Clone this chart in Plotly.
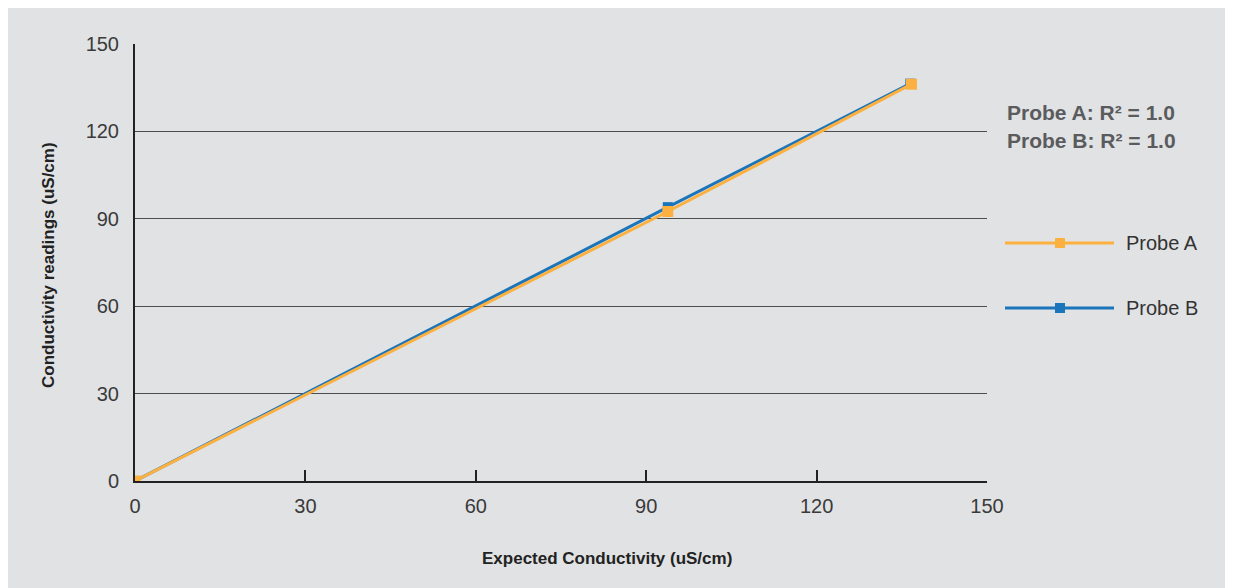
import plotly.graph_objects as go

expected_a = [0, 93.8, 136.7]
reading_a = [0, 92.5, 136.2]
expected_b = [0, 93.8, 136.5]
reading_b = [0, 94.0, 136.4]
series_names = ["Probe A", "Probe B"]
colors = {"Probe A": "#fbb040", "Probe B": "#1b75bb"}
r2_labels = ["Probe A: R\u00b2 = 1.0", "Probe B: R\u00b2 = 1.0"]
ticks = [0, 30, 60, 90, 120, 150]
x_title = "Expected Conductivity (uS/cm)"
y_title = "Conductivity readings (uS/cm)"

BG = "#e1e2e4"
# plot area in reference pixels
PL, PR, PT, PB = 135, 987, 44, 481
PW, PH = PR - PL, PB - PT
OFF = 8  # page body offset


def px(x):
    return (x - PL) / PW


def py(y):
    return (PB - y) / PH


fig = go.Figure()
fig.add_trace(go.Scatter(x=expected_b, y=reading_b, mode="lines+markers", name="Probe B",
                         line=dict(color=colors["Probe B"], width=3),
                         marker=dict(symbol="square", size=10, color=colors["Probe B"]),
                         showlegend=False))
fig.add_trace(go.Scatter(x=expected_a, y=reading_a, mode="lines+markers", name="Probe A",
                         line=dict(color=colors["Probe A"], width=3),
                         marker=dict(symbol="square", size=11, color=colors["Probe A"]),
                         showlegend=False))

tickfont = dict(family="Liberation Sans, Arial", size=20, color="#3a3a3a")
titlefont = dict(family="Liberation Sans, Arial", size=17, color="#222222")

fig.update_layout(
    width=1233, height=588,
    paper_bgcolor=BG, plot_bgcolor=BG,
    margin=dict(l=PL - OFF, r=1233 - (PL - OFF) - PW, t=PT - OFF, b=588 - (PT - OFF) - PH),
    showlegend=False,
    xaxis=dict(range=[0, 150], tickvals=ticks, ticks="inside", ticklen=11, tickwidth=2,
               tickcolor="#222222", showline=True, linecolor="#222222", linewidth=2,
               showgrid=False, zeroline=False, tickfont=tickfont, ticklabelstandoff=6),
    yaxis=dict(range=[0, 150], tickvals=ticks, ticks="", showline=True, linecolor="#222222",
               linewidth=2, showgrid=True, gridcolor="#4d4d4d", gridwidth=1.3, zeroline=False,
               tickfont=tickfont, ticklabelstandoff=10),
)

# axis titles
fig.add_annotation(xref="paper", yref="paper", x=px(607), y=py(558), showarrow=False,
                   xanchor="center", yanchor="middle", text="<b>" + x_title + "</b>", font=titlefont)
fig.add_annotation(xref="paper", yref="paper", x=px(48), y=py(265), showarrow=False, textangle=-90,
                   xanchor="center", yanchor="middle", text="<b>" + y_title + "</b>", font=titlefont)

# R² annotations
for i, t in enumerate(r2_labels):
    fig.add_annotation(xref="paper", yref="paper", x=px(1005), y=py(112 + 28 * i),
                       xanchor="left", yanchor="middle", showarrow=False, text="<b>" + t + "</b>",
                       font=dict(family="Liberation Sans, Arial", size=21, color="#5a5b5d"))

# custom legend
for i, name in enumerate(series_names):
    ypix = 243 + 65 * i
    yp = py(ypix)
    xm = px(1060)
    fig.add_shape(type="line", xref="paper", yref="paper", x0=px(1005), x1=px(1114), y0=yp, y1=yp,
                  line=dict(color=colors[name], width=3))
    fig.add_shape(type="rect", xref="paper", yref="paper",
                  x0=xm - 5 / PW, x1=xm + 5 / PW, y0=yp - 5 / PH, y1=yp + 5 / PH,
                  line=dict(width=0), fillcolor=colors[name])
    fig.add_annotation(xref="paper", yref="paper", x=px(1124), y=yp, xanchor="left",
                       yanchor="middle", showarrow=False, text=name,
                       font=dict(family="Liberation Sans, Arial", size=20, color="#333333"))

fig.write_html("out.html")
